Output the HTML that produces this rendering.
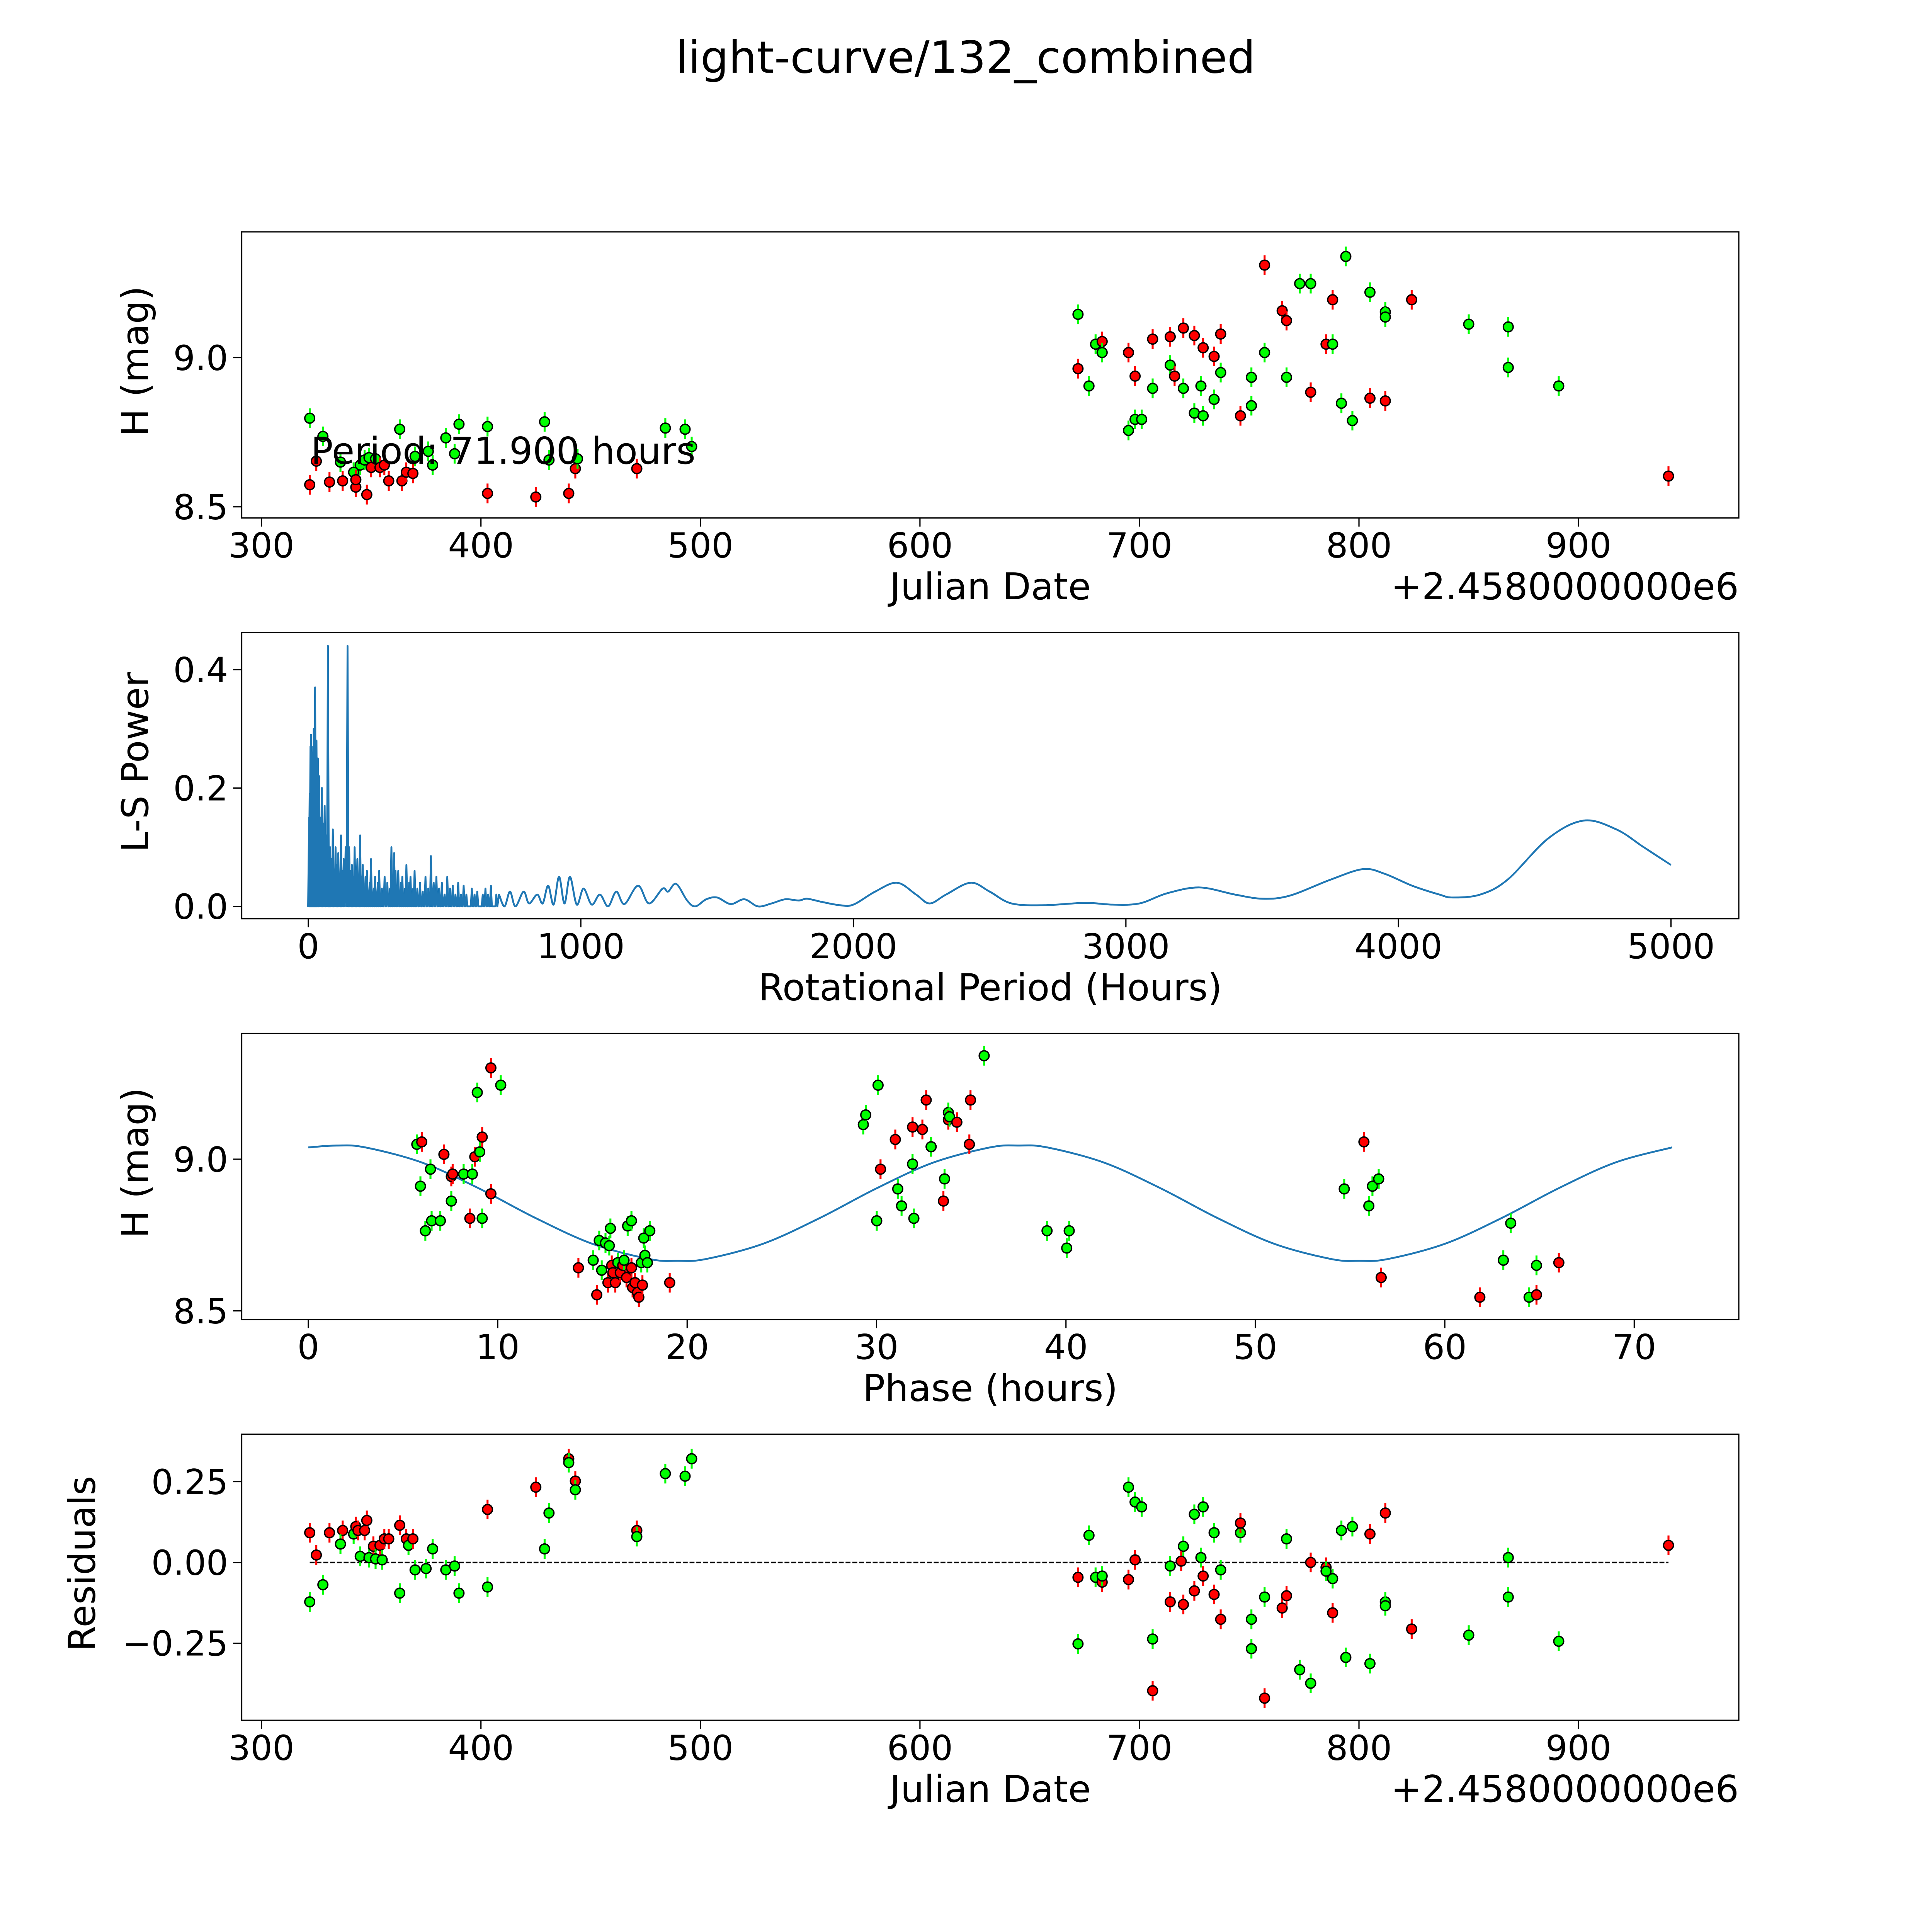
<!DOCTYPE html>
<html><head><meta charset="utf-8"><style>
html,body{margin:0;padding:0;background:#fff;overflow:hidden;width:5400px;height:5400px}
svg{display:block}
text{font-family:"DejaVu Sans","Liberation Sans",sans-serif;fill:#000}
</style></head><body>
<svg id="fig" xmlns="http://www.w3.org/2000/svg" width="5400" height="5400" viewBox="0 0 1692 1692">
<rect width="1692" height="1692" fill="#fff"/>
<text x="783" y="59" font-size="36" text-anchor="middle">light-curve/132_combined</text>
<g id="g1"></g>
<g id="g2"></g>
<g id="g3"></g>
<g id="g4"></g>
</svg>
<script>
// ---- Panel 1: light curve ----
const lcJd = [322,322,325,328,331,336,337,342,343,343,345,347,348,349,350,352,354,356,358,363,364,366,369,370,376,378,384,388,390,403,403,425,429,431,440,443,444,471,484,493,496,
672,672,677,680,683,683,695,695,698,698,701,706,706,714,714,716,720,720,725,725,728,729,729,734,734,737,737,746,751,751,757,757,765,767,767,773,778,778,785,788,788,792,794,797,805,805,812,812,812,824,850,868,868,891,941];
const lcMag = [8.797,8.574,8.653,8.736,8.583,8.650,8.587,8.616,8.566,8.591,8.640,8.657,8.541,8.665,8.632,8.661,8.632,8.640,8.587,8.760,8.587,8.616,8.612,8.669,8.686,8.640,8.731,8.678,8.777,8.545,8.769,8.533,8.785,8.657,8.545,8.628,8.661,8.628,8.764,8.760,8.702,
9.145,8.963,8.905,9.045,9.054,9.017,8.756,9.017,8.793,8.938,8.793,8.897,9.062,8.975,9.070,8.938,8.897,9.099,9.074,8.814,8.905,9.033,8.805,9.004,8.860,9.079,8.950,8.805,8.934,8.839,9.017,9.310,9.157,9.124,8.934,9.248,9.248,8.884,9.045,9.045,9.194,8.847,9.339,8.789,9.219,8.864,9.153,9.136,8.855,9.194,9.112,9.103,8.967,8.905,8.603];
const lcCol = ['g','r','r','g','r','g','r','g','r','r','g','g','r','g','r','g','r','r','r','g','r','r','r','g','g','g','g','g','g','r','g','r','g','g','r','r','g','r','g','g','g',
'g','r','g','g','r','g','g','r','g','r','g','g','r','g','r','r','g','r','r','g','g','r','g','r','g','r','g','r','g','g','g','r','r','r','g','g','g','r','r','g','r','g','g','g','g','r','g','g','r','r','g','g','g','g','r'];

// ---- Panel 2: periodogram ----
const spikePeriod = [3,5,8,10,13,15,18,20,23,25,28,30,35,40,45,50,55,60,65,72,76,80,85,90,95,100,105,110,115,120,125,130,137,144,150,155,160,165,170,175,180,185,190,195,200,210,215,225,230,240,245,255,260,270,280,290,300,305,315,320,330,340,345,355,360,370,375,385,390,400,410,420,430,440,450,460,470,480,490,500,510,520,530,540,550,560,570,580,600,610,620,640,650,660,670,690];
const spikePower = [0.15,0.19,0.27,0.29,0.23,0.26,0.27,0.30,0.26,0.37,0.2,0.28,0.25,0.22,0.15,0.2,0.14,0.17,0.12,0.44,0.1,0.1,0.08,0.13,0.06,0.1,0.07,0.09,0.05,0.12,0.06,0.08,0.1,0.44,0.1,0.06,0.07,0.05,0.1,0.06,0.08,0.04,0.12,0.05,0.07,0.05,0.06,0.04,0.08,0.03,0.05,0.04,0.06,0.03,0.05,0.04,0.03,0.1,0.09,0.06,0.06,0.04,0.05,0.03,0.07,0.04,0.05,0.03,0.06,0.03,0.04,0.025,0.05,0.03,0.085,0.04,0.05,0.03,0.04,0.02,0.05,0.03,0.035,0.02,0.04,0.02,0.035,0.02,0.03,0.02,0.025,0.02,0.03,0.02,0.035,0.02];
const smoothPeriod = [700,720,740,760,790,810,840,860,880,900,920,940,960,985,1010,1040,1070,1100,1130,1160,1210,1250,1300,1320,1350,1390,1420,1460,1500,1550,1600,1650,1700,1750,1800,1830,1880,1950,2000,2080,2160,2230,2280,2340,2430,2500,2580,2700,2850,2950,3050,3150,3270,3400,3500,3600,3750,3870,3950,4050,4150,4200,4300,4400,4550,4680,4800,4900,5000];
const smoothPower = [0.02,0.0,0.025,0.0,0.025,0.005,0.02,0.005,0.035,0.003,0.05,0.005,0.05,0.003,0.03,0.003,0.02,0.0,0.025,0.004,0.035,0.005,0.03,0.025,0.038,0.01,0.0,0.012,0.015,0.004,0.012,0.0,0.005,0.012,0.01,0.013,0.008,0.002,0.003,0.025,0.04,0.02,0.005,0.02,0.04,0.025,0.005,0.002,0.006,0.003,0.005,0.022,0.032,0.02,0.013,0.018,0.045,0.063,0.055,0.035,0.02,0.015,0.02,0.045,0.115,0.145,0.13,0.1,0.07];

// ---- Panel 3: phased ----
const phPhase = [5.73,5.99,5.92,6.18,6.45,6.51,6.97,7.16,7.55,7.55,7.62,8.20,8.53,8.66,8.79,8.92,9.05,9.18,9.18,9.64,9.64,10.16,
14.26,15.04,15.23,15.36,15.49,15.69,15.82,15.89,15.95,16.02,16.08,16.21,16.34,16.47,16.60,16.67,16.80,16.86,17.06,17.06,17.12,17.25,17.38,17.45,17.58,17.64,17.71,17.77,17.90,18.03,19.08,
29.30,29.43,30.01,30.21,30.08,30.99,31.12,31.32,31.90,31.90,31.97,32.42,32.62,32.88,32.88,33.53,33.59,33.79,33.79,33.85,34.24,34.90,34.96,35.68,39.00,40.04,40.17,
54.69,55.73,55.99,56.18,56.51,56.64,61.85,63.09,63.48,64.45,64.84,64.84,66.02];
const phMag = [9.049,9.057,8.911,8.764,8.967,8.797,8.797,9.016,8.943,8.862,8.951,8.951,8.805,8.951,9.008,9.220,9.024,8.805,9.073,9.301,8.886,9.244,
8.642,8.667,8.553,8.732,8.634,8.724,8.593,8.715,8.772,8.650,8.626,8.593,8.659,8.626,8.650,8.667,8.610,8.780,8.642,8.797,8.577,8.593,8.561,8.545,8.659,8.585,8.740,8.683,8.659,8.764,8.593,
9.114,9.146,8.797,8.967,9.244,9.065,8.902,8.846,9.106,8.984,8.805,9.098,9.195,9.041,9.041,8.862,8.935,9.154,9.130,9.140,9.122,9.049,9.195,9.341,8.764,8.707,8.764,
8.902,9.057,8.846,8.911,8.935,8.610,8.545,8.667,8.789,8.545,8.553,8.650,8.659];
const phCol = ['g','r','g','g','g','g','g','r','r','g','r','g','r','g','r','g','g','g','r','r','r','g',
'r','g','r','g','g','g','r','g','g','r','r','r','g','r','r','g','r','g','r','g','r','r','r','r','g','r','g','g','g','g','r',
'g','g','g','r','g','r','g','g','r','g','g','r','r','r','g','r','g','g','r','g','r','r','r','g','g','g','g',
'g','r','g','g','g','r','r','g','g','g','r','g','r'];
const modelPhase = [0,1.5,3,6,9,12,15,18,19.5,21,24,27,30,33,36,37.5,39,42,45,48,51,54,55.5,57,60,63,66,69,72];
const modelMag = [9.039,9.045,9.039,8.989,8.904,8.806,8.721,8.671,8.665,8.671,8.721,8.806,8.904,8.989,9.039,9.045,9.039,8.989,8.904,8.806,8.721,8.671,8.665,8.671,8.721,8.806,8.904,8.989,9.039];

// ---- Panel 4: residuals ----
const resJd = [322,322,325,328,331,337,336,342,343,344,345,347,348,349,351,352,354,356,355,358,363,363,366,367,369,370,375,378,384,388,390,403,403,425,429,431,440,440,443,443,471,471,484,493,496,
672,672,677,680,683,683,695,695,698,698,701,706,714,714,720,720,719,725,725,729,729,728,734,734,737,737,746,746,751,751,757,757,765,767,767,773,778,778,785,785,788,788,792,794,797,805,805,812,812,812,824,850,868,868,891,941,706];
const resVal = [-0.122,0.092,0.023,-0.069,0.092,0.099,0.057,0.088,0.111,0.099,0.019,0.099,0.130,0.015,0.050,0.011,0.053,0.073,0.008,0.073,-0.095,0.115,0.073,0.053,0.073,-0.023,-0.019,0.042,-0.023,-0.011,-0.095,0.164,-0.076,0.233,0.042,0.153,0.321,0.309,0.252,0.225,0.099,0.080,0.275,0.267,0.321,
-0.252,-0.046,0.084,-0.046,-0.061,-0.042,0.233,-0.053,0.187,0.008,0.172,-0.237,-0.122,-0.011,0.050,-0.130,0.004,-0.088,0.149,0.172,-0.042,0.015,-0.099,0.092,-0.176,-0.023,0.092,0.122,-0.176,-0.267,-0.107,-0.420,-0.141,-0.103,0.073,-0.332,-0.374,0,-0.015,-0.027,-0.050,-0.156,0.099,-0.294,0.111,-0.313,0.088,-0.122,-0.134,0.153,-0.206,-0.225,-0.107,0.015,-0.244,0.053,-0.397];
const resCol = ['g','r','r','g','r','r','g','g','r','r','g','r','r','g','r','g','r','r','g','r','g','r','r','g','r','g','g','g','g','g','g','r','g','r','g','g','r','g','r','g','r','g','g','g','g',
'g','r','g','g','r','g','g','r','g','r','g','g','r','g','g','r','r','r','g','g','r','g','r','g','r','g','g','r','g','g','g','r','r','r','g','g','g','r','r','g','g','r','g','g','g','g','r','g','g','r','r','g','g','g','g','r','r'];

// ---------------- drawing ----------------
const NS = 'http://www.w3.org/2000/svg';
function mk(parent, tag, attrs){
  const e = document.createElementNS(NS, tag);
  for (const k in attrs) e.setAttribute(k, attrs[k]);
  parent.appendChild(e);
  return e;
}
function lin(d0,d1,p0,p1){ return v => p0 + (v-d0)*(p1-p0)/(d1-d0); }
function smoothPath(P, start){
  let d = start ? `M${P[0][0]},${P[0][1]}` : ` L${P[0][0]},${P[0][1]}`;
  for (let i=0;i<P.length-1;i++){
    const p0=P[Math.max(0,i-1)], p1=P[i], p2=P[i+1], p3=P[Math.min(P.length-1,i+2)];
    const c1x=p1[0]+(p2[0]-p0[0])/6, c1y=p1[1]+(p2[1]-p0[1])/6;
    const c2x=p2[0]-(p3[0]-p1[0])/6, c2y=p2[1]-(p3[1]-p1[1])/6;
    d += ` C${c1x},${c1y} ${c2x},${c2y} ${p2[0]},${p2[1]}`;
  }
  return d;
}
const L = 196, R = 1410;
const panels = [
  {g:'g1', top:188, bot:420, x:lin(300,400,212,390), y:lin(9.0,8.5,290,411), xt:[300,400,500,600,700,800,900], xl:['300','400','500','600','700','800','900'], yt:[8.5,9.0], yl:['8.5','9.0'], xlab:'Julian Date', ylab:'H (mag)', ylx:120, off:true},
  {g:'g2', top:513, bot:745, x:lin(0,1000,250,471), y:lin(0,0.2,735,639), xt:[0,1000,2000,3000,4000,5000], xl:['0','1000','2000','3000','4000','5000'], yt:[0,0.2,0.4], yl:['0.0','0.2','0.4'], xlab:'Rotational Period (Hours)', ylab:'L-S Power', ylx:120},
  {g:'g3', top:838, bot:1070, x:lin(0,10,250,403.6), y:lin(9.0,8.5,940,1063), xt:[0,10,20,30,40,50,60,70], xl:['0','10','20','30','40','50','60','70'], yt:[8.5,9.0], yl:['8.5','9.0'], xlab:'Phase (hours)', ylab:'H (mag)', ylx:120},
  {g:'g4', top:1163, bot:1395, x:lin(300,400,212,390), y:lin(0,0.25,1267,1201.5), xt:[300,400,500,600,700,800,900], xl:['300','400','500','600','700','800','900'], yt:[-0.25,0,0.25], yl:['\u22120.25','0.00','0.25'], xlab:'Julian Date', ylab:'Residuals', ylx:77, off:true}
];
panels.forEach((p,i)=>{
  const g = document.getElementById(p.g);
  const fr = mk(g,'rect',{x:L,y:p.top,width:R-L,height:p.bot-p.top,fill:'none',stroke:'#000','stroke-width':1});
  
  
  p.xt.forEach((t,j)=>{
    const X = p.x(t);
    const tk = mk(g,'line',{x1:X,x2:X,y1:p.bot,y2:p.bot+7,stroke:'#000','stroke-width':1});
    
    
    const tl = mk(g,'text',{x:X,y:p.bot+32,'font-size':28,'text-anchor':'middle'});
    tl.textContent = p.xl[j];
    
    
  });
  p.yt.forEach((t,j)=>{
    const Y = p.y(t);
    const tk = mk(g,'line',{x1:L-7,x2:L,y1:Y,y2:Y,stroke:'#000','stroke-width':1});
    
    
    const tl = mk(g,'text',{x:L-11,y:Y+10,'font-size':28,'text-anchor':'end'});
    tl.textContent = p.yl[j];
    
    
  });
  const xl = mk(g,'text',{x:803,y:p.bot+66,'font-size':30,'text-anchor':'middle'});
  xl.textContent = p.xlab;
  
  
  const cy = (p.top+p.bot)/2;
  const yl = mk(g,'text',{x:p.ylx+11,y:cy,'font-size':30,'text-anchor':'middle',transform:`rotate(-90 ${p.ylx} ${cy})`});
  yl.textContent = p.ylab;
  
  
  if (p.off){
    const o = mk(g,'text',{x:R,y:p.bot+66,'font-size':30,'text-anchor':'end'});
    o.textContent = '+2.4580000000e6';
    
    
  }
});
function pts(g, xs, ys, cs, xf, yf, err){
  xs.forEach((v,i)=>{
    const X = xf(v), Y = yf(ys[i]);
    const c = cs[i]==='r' ? '#ff0000' : '#00ff00';
    const eb = mk(g,'line',{x1:X,x2:X,y1:Y-err,y2:Y+err,stroke:c,'stroke-width':1.6});
    
    
    const m = mk(g,'circle',{cx:X,cy:Y,r:4,fill:c,stroke:'#000','stroke-width':1.1});
    
    
  });
}
// panel 1
{
  const p = panels[0], g = document.getElementById('g1');
  pts(g, lcJd, lcMag, lcCol, p.x, p.y, 8);
  const t = mk(g,'text',{x:252,y:376,'font-size':30});
  t.textContent = 'Period: 71.900 hours';
  
  
}
// panel 2
{
  const p = panels[1], g = document.getElementById('g2');
  let d = `M${p.x(0)},${p.y(0)}`;
  spikePeriod.forEach((v,i)=>{
    d += ` L${p.x(v)-0.8},${p.y(0)} L${p.x(v)},${p.y(spikePower[i])} L${p.x(v)+0.8},${p.y(0)}`;
  });
  const sp = smoothPeriod.map((v,i)=>[p.x(v), p.y(smoothPower[i])]);
  d += smoothPath(sp, false);
  const path = mk(g,'path',{d:d,fill:'none',stroke:'#1f77b4','stroke-width':1.5,'stroke-linejoin':'round'});
  
  
}
// panel 3
{
  const p = panels[2], g = document.getElementById('g3');
  const mp = modelPhase.map((v,i)=>[p.x(v), p.y(modelMag[i])]);
  const path = mk(g,'path',{d:smoothPath(mp,true),fill:'none',stroke:'#1f77b4','stroke-width':1.5});
  
  
  pts(g, phPhase, phMag, phCol, p.x, p.y, 8);
}
// panel 4
{
  const p = panels[3], g = document.getElementById('g4');
  const zl = mk(g,'line',{x1:p.x(322),x2:p.x(941),y1:p.y(0),y2:p.y(0),stroke:'#000','stroke-width':1.2,'stroke-dasharray':'4,1.5'});
  
  
  pts(g, resJd, resVal, resCol, p.x, p.y, 8);
}
</script>
</body></html>
